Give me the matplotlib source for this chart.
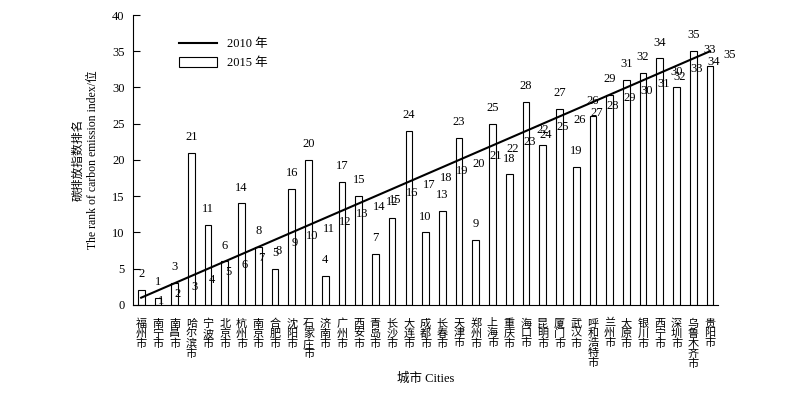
import numpy as np
import matplotlib.pyplot as plt

plt.rcParams['font.family'] = ['Liberation Serif', 'Noto Sans CJK SC']

cities = ['福州市', '南宁市', '南昌市', '哈尔滨市', '宁波市', '北京市', '杭州市',
          '南京市', '合肥市', '沈阳市', '石家庄市', '济南市', '广州市', '西安市',
          '青岛市', '长沙市', '大连市', '成都市', '长春市', '天津市', '郑州市',
          '上海市', '重庆市', '海口市', '昆明市', '厦门市', '武汉市', '呼和浩特市',
          '兰州市', '太原市', '银川市', '西宁市', '深圳市', '乌鲁木齐市', '贵阳市']
rank_2010 = list(range(1, 36))
rank_2015 = [2, 1, 3, 21, 11, 6, 14, 8, 5, 16, 20, 4, 17, 15, 7, 12, 24, 10, 13,
             23, 9, 25, 18, 28, 22, 27, 19, 26, 29, 31, 32, 34, 30, 35, 33]

x = np.arange(len(cities))

fig = plt.figure(figsize=(8, 3.95), dpi=100)
ax = fig.add_axes([0.166, 0.228, 0.732, 0.734])

ax.bar(x, rank_2015, width=0.4, facecolor='white', edgecolor='black',
       linewidth=0.8, label='2015 年', zorder=2)
ax.plot(x, rank_2010, color='black', linewidth=1.5, label='2010 年', zorder=3)

# 2015 labels above the bars
for xi, v in zip(x, rank_2015):
    ax.text(xi, v + 2.2, str(v), ha='center', va='center', fontsize=9, zorder=4)

# 2010 labels just under the line
for k in rank_2010:
    ax.text(k + 0.2, k - 0.5, str(k), ha='center', va='center', fontsize=9, zorder=4)

ax.set_xlim(-0.5, 34.5)
ax.set_ylim(0, 40)
ax.set_yticks(range(0, 41, 5))
ax.tick_params(axis='y', direction='in', length=5, labelsize=9, pad=6)
ax.set_xticks(x)
ax.set_xticklabels(['\n'.join(c) for c in cities], fontsize=8, linespacing=0.95,
                   va='top')
ax.tick_params(axis='x', length=0, pad=10)
ax.spines['top'].set_visible(False)
ax.spines['right'].set_visible(False)

ax.set_xlabel('城市 Cities', fontsize=9, labelpad=3)
ax.set_ylabel('碳排放指数排名\nThe rank of carbon emission index/位', fontsize=8.5,
              linespacing=1.3, labelpad=9)

ax.legend(loc='upper left', bbox_to_anchor=(0.06, 0.96), frameon=False,
          fontsize=9, handlelength=3, handleheight=0.9)

plt.savefig('out.png')
plt.close()
